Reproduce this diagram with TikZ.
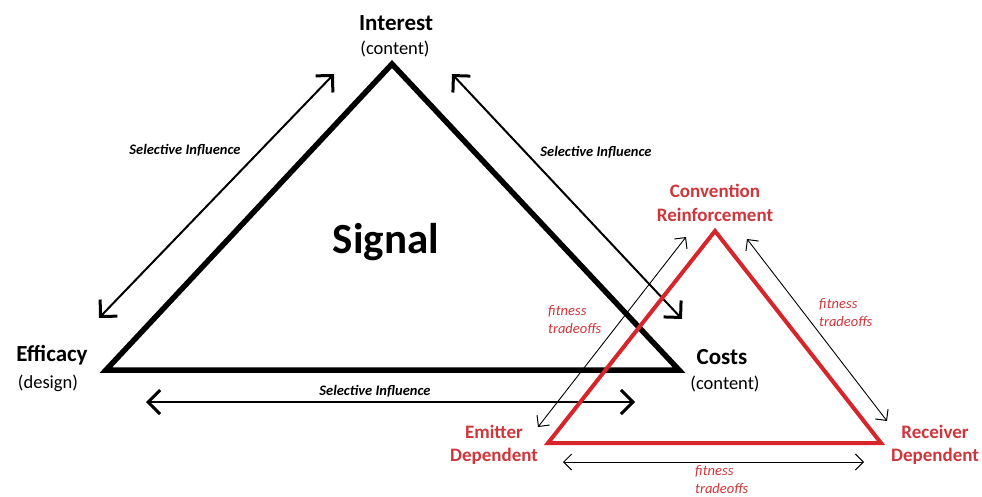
\documentclass[tikz,border=0pt]{standalone}
\usepackage{fontspec}
\setmainfont{Carlito}
\usetikzlibrary{arrows.meta}
\definecolor{tri}{RGB}{214,38,44}
\definecolor{thin}{RGB}{175,65,75}
\definecolor{lab}{RGB}{205,55,60}
\tikzset{
  bigtri/.style={line width=5.5pt, line join=miter},
  redtri/.style={tri, line width=4pt, line join=miter},
  selarrow/.style={line width=2pt, {Straight Barb[length=12pt,width=24pt,line width=3pt]}-{Straight Barb[length=12pt,width=24pt,line width=3pt]}},
  fitarrow/.style={thin, line width=0.9pt, {Straight Barb[length=8pt,width=16pt,line width=1pt]}-{Straight Barb[length=8pt,width=16pt,line width=1pt]}},
  title/.style={font=\fontsize{23}{26}\selectfont\bfseries, inner sep=0pt},
  sub/.style={font=\fontsize{18.5}{22}\selectfont, inner sep=0pt},
  sel/.style={font=\fontsize{14.5}{17}\selectfont\bfseries\itshape, inner sep=0pt},
  redlab/.style={lab, font=\fontsize{19}{23.5}\selectfont\bfseries, align=center, inner sep=0pt},
  fitlab/.style={lab, font=\fontsize{14.5}{18}\selectfont\itshape, align=left, inner sep=0pt, anchor=west},
}
\begin{document}
\begin{tikzpicture}[x=1pt,y=-1pt]
\useasboundingbox (0,0) rectangle (982,496);
\fill[white] (0,0) rectangle (982,496);
% black triangle
\coordinate (A) at (392,64);
\coordinate (B) at (106,370);
\coordinate (C) at (679,370);
\draw[bigtri] (A) -- (B) -- (C) -- cycle;
% black arrows
\coordinate (l1) at (99,318); \coordinate (l2) at (334,74);
\coordinate (r1) at (452,74); \coordinate (r2) at (682,319);
\coordinate (b1) at (146,402); \coordinate (b2) at (635,402);
\draw[selarrow] (l1) -- (l2);
\draw[selarrow] (r1) -- (r2);
\draw[selarrow] (b1) -- (b2);
% red triangle
\coordinate (P) at (715,231);
\coordinate (Q) at (548,443);
\coordinate (R) at (881,443);
\draw[redtri] (P) -- (Q) -- (R) -- cycle;
% red arrows
\coordinate (rl1) at (538,427); \coordinate (rl2) at (686,237);
\coordinate (rr1) at (747,239); \coordinate (rr2) at (887,421);
\coordinate (rb1) at (563,462); \coordinate (rb2) at (864,462);
\draw[fitarrow] (rl1) -- (rl2);
\draw[fitarrow] (rr1) -- (rr2);
\draw[fitarrow] (rb1) -- (rb2);
% black labels
\node[title] (interest) at (396,23) {Interest};
\node[sub] (interestsub) at (395,49) {(content)};
\node[title] (efficacy) at (52,355) {Efficacy};
\node[sub] (efficacysub) at (48,383) {(design)};
\node[title] (costs) at (722,357) {Costs};
\node[sub] (costssub) at (725,384) {(content)};
\node[font=\fontsize{43}{48}\selectfont\bfseries, inner sep=0pt] (signal) at (386,242) {Signal};
\node[sel] (sell) at (185,150) {Selective Influence};
\node[sel] (selr) at (596,152) {Selective Influence};
\node[sel] (selb) at (375,391) {Selective Influence};
% red labels
\node[redlab] (conv) at (715,203) {Convention\\Reinforcement};
\node[redlab] (emit) at (494,445) {Emitter\\Dependent};
\node[redlab] (recv) at (935,445) {Receiver\\Dependent};
\node[fitlab] (fitl) at (548,320) {fitness\\tradeoffs};
\node[fitlab] (fitr) at (819,313) {fitness\\tradeoffs};
\node[fitlab] (fitb) at (695,480) {fitness\\tradeoffs};
\end{tikzpicture}
\end{document}
